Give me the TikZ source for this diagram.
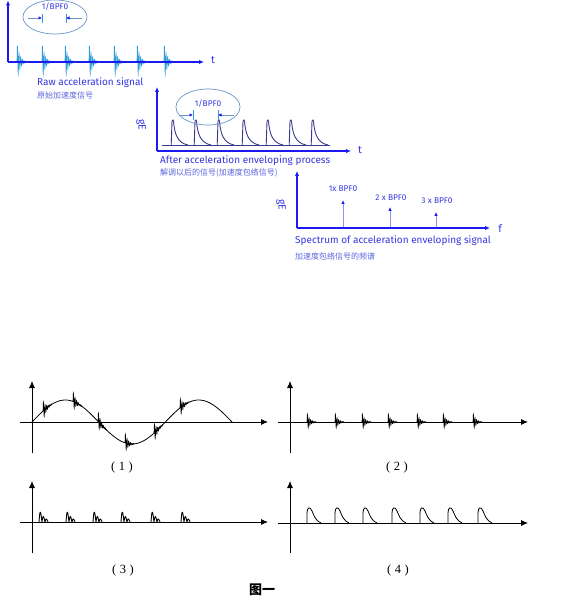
\documentclass[tikz,border=0pt]{standalone}
\usepackage{fontspec}
\setmainfont{Liberation Serif}
\newfontfamily\labsans{Fira Sans}
\newfontfamily\cjk{Noto Sans CJK SC}
\usetikzlibrary{arrows.meta,shapes.geometric}
\definecolor{axblue}{HTML}{1A1AF0}
\definecolor{txtblue}{HTML}{3535E0}
\definecolor{cjkblue}{HTML}{5A66DD}
\definecolor{burstblue}{HTML}{3399DD}
\definecolor{ellblue}{HTML}{6A94CC}
\definecolor{envnavy}{HTML}{3A3A8C}
\definecolor{speclines}{HTML}{9090F0}
\tikzset{
  axisb/.style={draw=axblue, line width=1.6pt, -{Latex[length=5pt,width=4.5pt]}},
  axisk/.style={draw=black, line width=0.8pt, -{Latex[length=7pt,width=6pt]}},
  entext/.style={text=txtblue, font=\labsans\fontsize{10}{11}\selectfont, anchor=west, inner sep=0pt},
  zhtext/.style={text=cjkblue, font=\cjk\fontsize{8}{9}\selectfont, anchor=west, inner sep=0pt},
  smalltext/.style={text=txtblue, font=\labsans\fontsize{8.3}{9}\selectfont, inner sep=0pt},
  axlab/.style={text=txtblue, font=\labsans\fontsize{10.5}{11}\selectfont, inner sep=0pt},
  ellipsebox/.style={ellipse, draw=ellblue, line width=0.7pt, inner sep=0pt},
  dimtick/.style={draw=burstblue, line width=0.8pt},
  dimarrow/.style={draw=ellblue, line width=0.6pt, -{Latex[length=3.5pt,width=3.5pt,color=axblue]}},
  burstone/.style={draw=burstblue, line width=0.6pt},
  envline/.style={draw=envnavy, line width=0.9pt, line join=round},
  specline/.style={draw=speclines, line width=0.8pt, -{Latex[length=4pt,width=3.5pt,color=axblue]}},
  burstk/.style={draw=black, line width=0.6pt},
  humpk/.style={draw=black, line width=0.9pt, line join=round},
  pulsek/.style={draw=black, line width=0.8pt, line join=round},
  numlab/.style={font=\fontsize{12.5}{13}\selectfont, inner sep=0pt},
}
\begin{document}
\begin{tikzpicture}[x=1pt,y=-1pt]
\useasboundingbox (0,0) rectangle (585,609);

% ---------------- Panel A : raw acceleration signal
\coordinate (aO) at (8,62);
\coordinate (aY) at (8,0.5);
\coordinate (aX) at (204,62);
\foreach \bx in {17,42,65,89,114,137,164}
  \draw[burstone] plot[domain=0:9,samples=90,smooth] ({\bx+\x},{62-19*exp(-\x/2.8)*sin(\x*220)});
\draw[axisb] (aO) -- (aY);
\draw[axisb] (aO) -- (aX);
\node[axlab] (tA) at (213,60) {t};
\node[ellipsebox, minimum width=64pt, minimum height=34pt] (ellA) at (55,17) {};
\node[smalltext] (bpfA) at (55,7) {1/BPF0};
\coordinate (tkA1t) at (42,14); \coordinate (tkA1b) at (42,23);
\coordinate (tkA2t) at (66,14); \coordinate (tkA2b) at (66,23);
\coordinate (arA1s) at (28,18); \coordinate (arA1e) at (42,18);
\coordinate (arA2s) at (82,18); \coordinate (arA2e) at (66,18);
\draw[dimtick] (tkA1t) -- (tkA1b);
\draw[dimtick] (tkA2t) -- (tkA2b);
\draw[dimarrow] (arA1s) -- (arA1e);
\draw[dimarrow] (arA2s) -- (arA2e);
\node[entext] (rawEN) at (37,83) {Raw acceleration signal};
\node[zhtext] (rawZH) at (37,95) {原始加速度信号};

% ---------------- Panel B : after enveloping
\coordinate (bO) at (157,151);
\coordinate (bY) at (157,87);
\coordinate (bX) at (351,151);
\coordinate (bBl) at (162,145);
\coordinate (bBr) at (330,145);
\draw[envline] (bBl) -- (bBr);
\foreach \px in {172,195,218,243,267,290,312}
  \draw[envline] (\px-0.8,145) -- (\px,121) .. controls (\px+0.6,119) and (\px+1.4,119) .. (\px+1.8,124) .. controls (\px+3,135) and (\px+6,143) .. (\px+16,145);
\draw[axisb] (bO) -- (bY);
\draw[axisb] (bO) -- (bX);
\node[axlab] (tB) at (360,150) {t};
\node[axlab, rotate=-90] (gEB) at (141,125) {gE};
\node[ellipsebox, minimum width=64pt, minimum height=36pt] (ellB) at (208,107) {};
\node[smalltext] (bpfB) at (208,104) {1/BPF0};
\coordinate (tkB1t) at (193,110); \coordinate (tkB1b) at (193,120);
\coordinate (tkB2t) at (218,110); \coordinate (tkB2b) at (218,120);
\coordinate (arB1s) at (179,115); \coordinate (arB1e) at (193,115);
\coordinate (arB2s) at (234,115); \coordinate (arB2e) at (218,115);
\draw[dimtick] (tkB1t) -- (tkB1b);
\draw[dimtick] (tkB2t) -- (tkB2b);
\draw[dimarrow] (arB1s) -- (arB1e);
\draw[dimarrow] (arB2s) -- (arB2e);
\node[entext] (envEN) at (160,161) {After acceleration enveloping process};
\node[zhtext] (envZH) at (160,173) {解调以后的信号(加速度包络信号)};

% ---------------- Panel C : spectrum
\coordinate (cO) at (297,228);
\coordinate (cY) at (297,171);
\coordinate (cX) at (490,228);
\coordinate (s1b) at (343,228); \coordinate (s1t) at (343,200);
\coordinate (s2b) at (390,228); \coordinate (s2t) at (390,207);
\coordinate (s3b) at (436,228); \coordinate (s3t) at (436,212);
\draw[specline] (s1b) -- (s1t);
\draw[specline] (s2b) -- (s2t);
\draw[specline] (s3b) -- (s3t);
\draw[axisb] (cO) -- (cY);
\draw[axisb] (cO) -- (cX);
\node[axlab] (fC) at (500,229) {f};
\node[axlab, rotate=-90] (gEC) at (281,205) {gE};
\node[smalltext] (l1) at (343,189) {1x BPF0};
\node[smalltext] (l2) at (391,198) {2 x BPF0};
\node[smalltext] (l3) at (437,201) {3 x BPF0};
\node[entext] (specEN) at (295,241) {Spectrum of acceleration enveloping signal};
\node[zhtext] (specZH) at (295,256) {加速度包络信号的频谱};

% ---------------- Lower panel (1)
\coordinate (p1Yb) at (32,453);
\coordinate (p1Yt) at (32,381);
\coordinate (p1Xl) at (20,422);
\coordinate (p1Xr) at (268,422);
\draw[axisk] (p1Yb) -- (p1Yt);
\draw[axisk] (p1Xl) -- (p1Xr);
\draw[line width=0.8pt] plot[domain=0:200,samples=120,smooth] ({32+\x},{422-22*sin(\x*2.7)});
\foreach \bx in {43,73,98,125,154,180}
  \draw[burstk] plot[domain=0:9,samples=90,smooth] ({\bx+\x},{422-22*sin((\bx+\x-32)*2.7)-10*exp(-\x/2.8)*sin(\x*220)});
\node[numlab] (n1) at (122,467) {(\;1\;)};

% ---------------- Lower panel (2)
\coordinate (p2Yb) at (290,453);
\coordinate (p2Yt) at (290,381);
\coordinate (p2Xl) at (278,422);
\coordinate (p2Xr) at (528,422);
\draw[axisk] (p2Yb) -- (p2Yt);
\draw[axisk] (p2Xl) -- (p2Xr);
\foreach \bx in {307,335,362,388,417,443,473}
  \draw[burstk] plot[domain=0:9,samples=90,smooth] ({\bx+\x},{422-9*exp(-\x/2.8)*sin(\x*220)});
\node[numlab] (n2) at (397,467) {(\;2\;)};

% ---------------- Lower panel (3)
\coordinate (p3Yb) at (32,553);
\coordinate (p3Yt) at (32,481);
\coordinate (p3Xl) at (20,522);
\coordinate (p3Xr) at (268,522);
\draw[axisk] (p3Yb) -- (p3Yt);
\draw[axisk] (p3Xl) -- (p3Xr);
\foreach \bx in {39,66,93,121,151,181}
  \draw[humpk] plot[domain=0:9,samples=91] ({\bx+\x},{522-13*exp(-\x/5)*abs(sin(\x*60))});
\node[numlab] (n3) at (123,570) {(\;3\;)};

% ---------------- Lower panel (4)
\coordinate (p4Yb) at (290,553);
\coordinate (p4Yt) at (290,481);
\coordinate (p4Xl) at (278,523);
\coordinate (p4Xr) at (528,523);
\draw[axisk] (p4Yb) -- (p4Yt);
\draw[axisk] (p4Xl) -- (p4Xr);
\foreach \px in {307,335,363,392,420,448,478}
  \draw[pulsek] (\px,523) -- (\px,513) .. controls (\px,507) and (\px+3,506) .. (\px+5,511) .. controls (\px+7,516) and (\px+9,521) .. (\px+14,523);
\node[numlab] (n4) at (398,570) {(\;4\;)};

\node[font=\cjk\bfseries\fontsize{13}{14}\selectfont, inner sep=0pt] (fig) at (262,590) {图一};
\end{tikzpicture}
\end{document}
